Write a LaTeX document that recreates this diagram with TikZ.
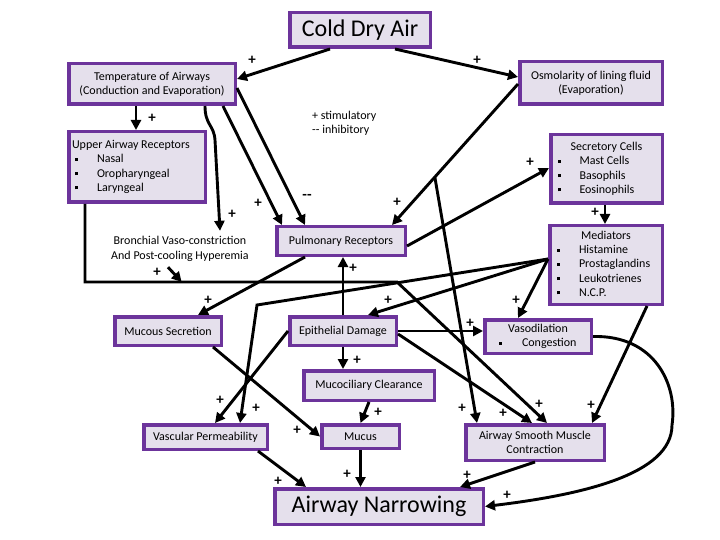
\documentclass[tikz,border=0pt]{standalone}
\usepackage{fontspec}
\setmainfont{Carlito}
\usetikzlibrary{arrows.meta,calc}
\definecolor{boxfill}{RGB}{229,224,236}
\definecolor{boxline}{RGB}{108,52,155}
\newcommand\mybul{\rule[2pt]{3pt}{3pt}}
\begin{document}
\begin{tikzpicture}[x=1pt,y=-1pt,
  box/.style={draw=boxline, fill=boxfill, line width=3.5pt, inner sep=0pt, align=center,
    font=\fontsize{12}{14.3}\selectfont},
  arr/.style={line width=2.9pt, -{Triangle[length=10pt,width=10pt]}},
  plus/.style={font=\bfseries\fontsize{15}{15}\selectfont, inner sep=0pt},
  txt/.style={font=\fontsize{12}{14.3}\selectfont, align=center, inner sep=0pt}]
\useasboundingbox (0,0) rectangle (720,540);

% nodes
\node[box, minimum width=140.5pt, minimum height=34.5pt, font=\fontsize{24}{24}\selectfont] (cold) at (360,30) {Cold Dry Air};
\node[box, minimum width=166.5pt, minimum height=40.5pt] (temp) at (152,84) {Temperature of Airways\\(Conduction and Evaporation)};
\node[box, minimum width=142.5pt, minimum height=42.5pt] (osm) at (591,83) {Osmolarity of lining fluid\\(Evaporation)};
\node[box, minimum width=136.5pt, minimum height=70.5pt] (upper) at (137,167) {\begin{tabular}{@{}p{25pt}@{}p{105pt}@{}}
\multicolumn{2}{@{}l@{}}{Upper Airway Receptors}\\
\hspace*{3pt}\mybul & Nasal\\
\hspace*{3pt}\mybul & Oropharyngeal\\
\hspace*{3pt}\mybul & Laryngeal
\end{tabular}};
\node[box, minimum width=111.5pt, minimum height=68.5pt] (sec) at (606.5,169) {\begin{tabular}{@{}p{23pt}@{}p{77pt}@{}}
\multicolumn{2}{@{}c@{}}{Secretory Cells}\\
\hspace*{1pt}\mybul & Mast Cells\\
\hspace*{1pt}\mybul & Basophils\\
\hspace*{1pt}\mybul & Eosinophils
\end{tabular}};
\node[box, minimum width=112.5pt, minimum height=78.5pt] (med) at (606,265) {\begin{tabular}{@{}p{23pt}@{}p{77pt}@{}}
\multicolumn{2}{@{}c@{}}{Mediators}\\
\hspace*{1pt}\mybul & Histamine\\
\hspace*{1pt}\mybul & Prostaglandins\\
\hspace*{1pt}\mybul & Leukotrienes\\
\hspace*{1pt}\mybul & N.C.P.
\end{tabular}};
\node[txt, minimum height=36pt] (bronch) at (180,249) {Bronchial Vaso-constriction\\And Post-cooling Hyperemia};
\node[txt, align=left, anchor=west] (legend) at (312,123) {+ stimulatory\\-{}- inhibitory};
\node[box, minimum width=128.5pt, minimum height=28.5pt] (pulm) at (341,241) {Pulmonary Receptors};
\node[box, minimum width=106.5pt, minimum height=28.5pt] (mucsec) at (168,331) {Mucous Secretion};
\node[box, minimum width=106.5pt, minimum height=28.5pt] (epi) at (343,331) {Epithelial Damage};
\node[box, minimum width=106.5pt, minimum height=33.5pt] (vaso) at (538,336.5) {\begin{tabular}{@{}p{23pt}@{}p{55pt}@{}}
\multicolumn{2}{@{}c@{}}{Vasodilation}\\
\mybul & Congestion
\end{tabular}};
\node[box, minimum width=130.5pt, minimum height=29.5pt] (mucoc) at (369,385.5) {Mucociliary Clearance};
\node[box, minimum width=123.5pt, minimum height=24.5pt] (vascp) at (205.5,437) {Vascular Permeability};
\node[box, minimum width=77.5pt, minimum height=23.5pt] (mucus) at (360.5,436.5) {Mucus};
\node[box, minimum width=138.5pt, minimum height=35.5pt] (asm) at (535,442.5) {Airway Smooth Muscle\\Contraction};
\node[box, minimum width=208.5pt, minimum height=35.5pt, font=\fontsize{24}{24}\selectfont] (narrow) at (379,506.5) {Airway Narrowing};

% connectors
\draw[arr] ([xshift=-30pt]cold.south) -- ([yshift=5pt]temp.east);
\draw[arr] ([xshift=35pt]cold.south) -- ([yshift=6pt]osm.west);
\draw[arr] ([xshift=-16pt]temp.south) -- ([xshift=-1pt]upper.north);
\draw[arr] ([xshift=53pt]temp.south) .. controls (205,125) and (214,125) .. (215,140) -- ([xshift=40pt]bronch.north);
\draw[arr] ([xshift=71pt]temp.south) -- ([xshift=-59pt]pulm.north);
\draw[arr] ([yshift=-4pt]temp.east) -- ([xshift=-36pt]pulm.north);
\draw[arr] ([yshift=-1pt]osm.west) -- coordinate[pos=0.66] (j1) ([xshift=51pt]pulm.north);
\draw[arr] (j1) -- ([xshift=-58pt]asm.north);
\draw[arr] ([yshift=-5pt]pulm.east) -- ([yshift=1pt]sec.west);
\draw[arr] ([xshift=-1.5pt]sec.south) -- ([xshift=-1pt]med.north);
\coordinate (mw) at ([yshift=6pt]med.west);
\draw[arr] (mw) -- ([xshift=-20pt]vaso.north);
\draw[arr] (mw) -- ([xshift=25pt]epi.north);
\draw[arr] (mw) -- (257,305) -- ([xshift=34.5pt]vascp.north);
\draw[arr] ([xshift=41pt]med.south) -- ([xshift=57pt]asm.north);
\draw[arr] ([xshift=-52pt]upper.south) -- (85,282) -- coordinate[pos=0.31] (bj) (397,282) -- ([xshift=12pt]asm.north);
\draw[arr] ([xshift=-12pt]bronch.south) -- (bj);
\draw[arr] ([xshift=-36pt]pulm.south) -- ([xshift=30pt]mucsec.north);
\draw[arr] (epi.north) -- (epi.north |- pulm.south);
\draw[arr] (epi.south) -- (epi.south |- mucoc.north);
\draw[arr] (epi.east) -- (vaso.west |- epi.east);
\draw[arr] (epi.west) -- ([xshift=9.5pt]vascp.north);
\draw[arr] ([yshift=-3pt]epi.east) -- ([xshift=-3pt]asm.north);
\draw[arr] ([xshift=45pt]mucsec.south) -- (mucus.west);
\draw[arr] (mucoc.south) -- (mucus.north);
\draw[arr] (mucus.south) -- (mucus.south |- narrow.north);
\draw[arr] ([xshift=52.5pt]vascp.south) -- ([xshift=-73pt]narrow.north);
\draw[arr] (asm.south) -- ([xshift=81pt]narrow.north);
\draw[arr] (vaso.east) .. controls (655,335) and (678,385) .. (672,425) .. controls (672,475) and (580,495) .. (narrow.east);

% labels
\foreach \p in {(252,60),(477,60),(152,118),(232,214),(258,203),(530,162),(595,212),(397,202),
  (353,268),(157,272),(208,300),(388,300),(516,300),(470,323),(357,360),(220,400),(256,408),
  (378,412),(297,430),(462,408),(503,413),(539,404),(591,405),(347,474),(278,481),(467,475),(507,495)}
  \node[plus] at \p {+};
\node[plus] (inh) at (307,197) {-{}-};
\end{tikzpicture}
\end{document}
